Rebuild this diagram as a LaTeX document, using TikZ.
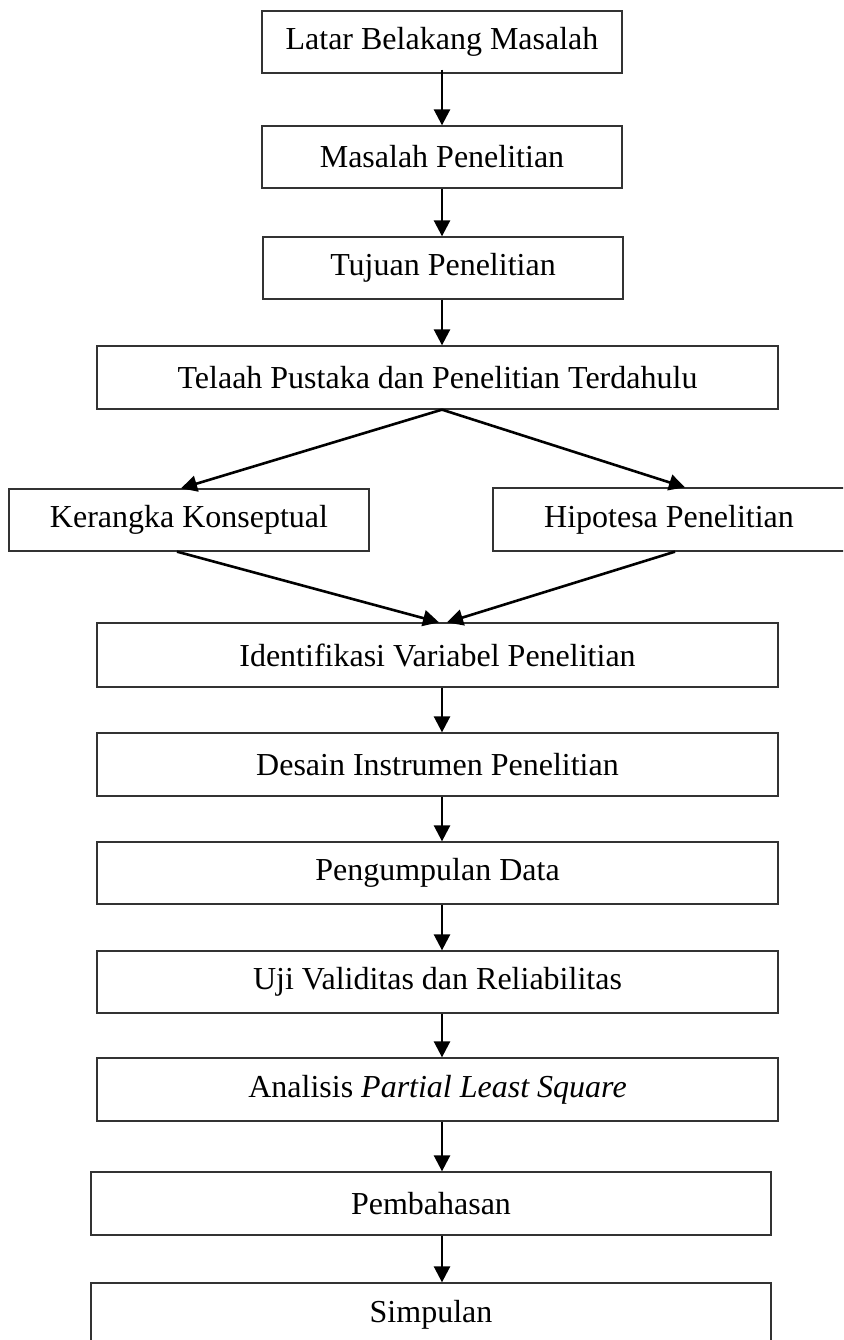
\documentclass[tikz,border=0pt]{standalone}
\usepackage{fontspec}
\setmainfont{Liberation Serif}
\usetikzlibrary{arrows.meta,calc}
\begin{document}
\begin{tikzpicture}[x=1pt,y=-1pt,
  box/.style={draw=black!80,line width=1.3pt,rectangle,inner sep=0pt,
    font=\fontsize{32}{38}\selectfont},
  arr/.style={line width=2.6pt,-{Triangle[length=16pt,width=16pt]}}]
\useasboundingbox (0,0) rectangle (843,1340);
\clip (0,0) rectangle (843,1340);
\fill[white] (0,0) rectangle (843,1340);
\coordinate (ax) at (442,0);
\node[box,minimum width=360pt,minimum height=62pt] (b1) at (442,42) {Latar Belakang Masalah};
\node[box,minimum width=360pt,minimum height=62pt] (b2) at (442,157) {Masalah Penelitian};
\node[box,minimum width=360pt,minimum height=62pt] (b3) at (443,268) {Tujuan Penelitian};
\node[box,minimum width=681pt,minimum height=63pt] (b4) at (437.5,377.5) {Telaah Pustaka dan Penelitian Terdahulu};
\node[box,minimum width=360pt,minimum height=62pt] (b5) at (189,520) {Kerangka Konseptual};
\node[box,minimum width=352pt,minimum height=63pt] (b6) at (669,519.5) {Hipotesa Penelitian};
\node[box,minimum width=681pt,minimum height=64pt] (b7) at (437.5,655) {Identifikasi Variabel Penelitian};
\node[box,minimum width=681pt,minimum height=63pt] (b8) at (437.5,764.5) {Desain Instrumen Penelitian};
\node[box,minimum width=681pt,minimum height=62pt] (b9) at (437.5,873) {Pengumpulan Data};
\node[box,minimum width=681pt,minimum height=62pt] (b10) at (437.5,982) {Uji Validitas dan Reliabilitas};
\node[box,minimum width=681pt,minimum height=63pt] (b11) at (437.5,1089.5) {Analisis \textit{Partial Least Square}};
\node[box,minimum width=680pt,minimum height=63pt] (b12) at (431,1203.5) {Pembahasan};
\node[box,minimum width=680pt,minimum height=63pt] (b13) at (431,1314.5) {Simpulan};
\draw[arr] ([yshift=4pt]b1.south -| ax) -- (b2.north -| ax);
\draw[arr] (b2.south -| ax) -- (b3.north -| ax);
\draw[arr] (b3.south -| ax) -- (b4.north -| ax);
\draw[arr] (b4.south -| ax) -- ([xshift=-8pt]b5.north);
\draw[arr] (b4.south -| ax) -- ([xshift=16pt]b6.north);
\draw[arr] ([xshift=-12pt]b5.south) -- ([xshift=-3pt]b7.north -| ax);
\draw[arr] ([xshift=6pt]b6.south) -- ([xshift=5pt]b7.north -| ax);
\draw[arr] (b7.south -| ax) -- (b8.north -| ax);
\draw[arr] (b8.south -| ax) -- (b9.north -| ax);
\draw[arr] (b9.south -| ax) -- (b10.north -| ax);
\draw[arr] (b10.south -| ax) -- (b11.north -| ax);
\draw[arr] (b11.south -| ax) -- (b12.north -| ax);
\draw[arr] (b12.south -| ax) -- (b13.north -| ax);
\end{tikzpicture}
\end{document}
